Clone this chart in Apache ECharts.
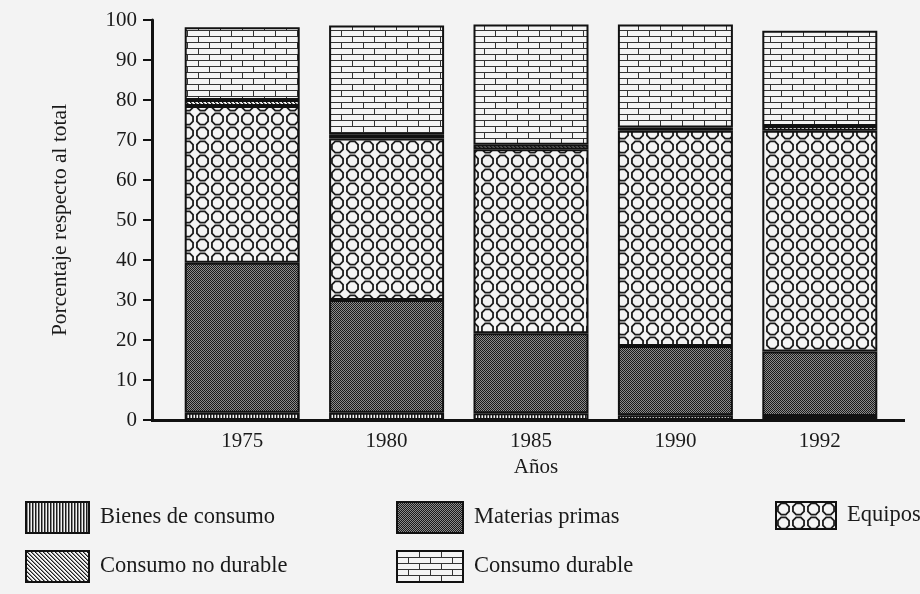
<!DOCTYPE html>
<html><head><meta charset="utf-8">
<script src="https://cdn.jsdelivr.net/npm/echarts@6/dist/echarts.min.js"></script>
<style>html,body{margin:0;padding:0;background:#f3f3f3}#c{width:920px;height:594px}</style>
</head><body><div id="c"></div>
<script>
// ---- data ----
const years = ['1975', '1980', '1985', '1990', '1992'];
const bienesConsumo    = [1.8, 1.8, 1.7, 1.2, 1.0];
const materiasPrimas   = [37.5, 28.2, 20.0, 17.3, 16.1];
const equipos          = [39.2, 40.4, 46.0, 53.8, 55.2];
const consumoNoDurable = [1.5, 0.9, 1.1, 0.8, 1.2];
const consumoDurable   = [18.2, 27.3, 30.1, 25.8, 23.8];
const seriesNames = ['Bienes de consumo', 'Materias primas', 'Equipos', 'Consumo no durable', 'Consumo durable'];

// ---- patterns ----
const BG = '#f4f4f4', INK = '#1c1c1c';
function pat(w, h, draw) {
  const c = document.createElement('canvas'); c.width = w; c.height = h;
  const g = c.getContext('2d'); g.fillStyle = BG; g.fillRect(0, 0, w, h); draw(g);
  return { image: c, repeat: 'repeat' };
}
const pVertical = pat(3, 3, g => { g.fillStyle = INK; g.fillRect(0, 0, 1, 3); g.fillStyle = '#888'; g.fillRect(1, 0, 1, 3); });
const pChecker = pat(2, 2, g => { g.fillStyle = '#1a1a1a'; g.fillRect(0, 0, 1, 1); g.fillRect(1, 1, 1, 1); g.fillStyle = '#8c8c8c'; g.fillRect(1, 0, 1, 1); g.fillRect(0, 1, 1, 1); });
const pDiag = pat(4, 4, g => { for (let i = 0; i < 4; i++) { g.fillStyle = INK; g.fillRect(i, i, 1, 1); g.fillStyle = '#8a8a8a'; g.fillRect((i + 1) % 4, i, 1, 1); } });
const pOct = pat(15, 14, g => {
  const cx = 7.5, cy = 7, r = 6.0; g.strokeStyle = INK; g.lineWidth = 1.8; g.beginPath();
  for (let k = 0; k < 8; k++) { const a = Math.PI / 8 + k * Math.PI / 4; const x = cx + r * Math.cos(a), y = cy + r * Math.sin(a); k ? g.lineTo(x, y) : g.moveTo(x, y); }
  g.closePath(); g.stroke();
});
const pBrick = pat(22, 12, g => { g.fillStyle = '#333'; g.fillRect(0, 0, 22, 1); g.fillRect(0, 6, 22, 1); g.fillRect(0, 0, 1, 6); g.fillRect(11, 6, 1, 6); });
const patterns = [pVertical, pChecker, pOct, pDiag, pBrick];
const values = [bienesConsumo, materiasPrimas, equipos, consumoNoDurable, consumoDurable];

const FONT = 'Liberation Serif';
const chart = echarts.init(document.getElementById('c'), null, { renderer: 'canvas' });
const legendBase = { orient: 'vertical', padding: 0, itemGap: 16, itemWidth: 63, itemHeight: 31, icon: 'rect',
  textStyle: { fontFamily: FONT, fontSize: 22.5, color: '#1a1a1a', padding: [0, 0, 0, 6] }, selectedMode: false };
chart.setOption({
  backgroundColor: '#f3f3f3',
  animation: false,
  grid: { left: 170, right: 28, top: 20, bottom: 174 },
  legend: [
    Object.assign({}, legendBase, { left: 25, top: 501, data: ['Bienes de consumo', 'Consumo no durable'] }),
    Object.assign({}, legendBase, { left: 396, top: 501, itemWidth: 66, data: ['Materias primas', 'Consumo durable'] }),
    Object.assign({}, legendBase, { left: 775, top: 501, itemWidth: 60, itemHeight: 27, data: ['Equipos'] })
  ],
  xAxis: {
    type: 'category', data: years,
    name: 'Años', nameLocation: 'middle', nameGap: 37,
    nameTextStyle: { fontFamily: FONT, fontSize: 21, color: '#1a1a1a', padding: [0, 0, 0, 10] },
    axisLine: { lineStyle: { color: '#111', width: 3 } },
    axisTick: { alignWithLabel: true, length: 6, lineStyle: { color: '#111', width: 2 } },
    axisLabel: { fontFamily: FONT, fontSize: 21, color: '#1a1a1a', margin: 11 }
  },
  yAxis: {
    type: 'value', min: 0, max: 100, interval: 10, offset: 18,
    name: 'Porcentaje respecto al total', nameLocation: 'middle', nameGap: 81,
    nameTextStyle: { fontFamily: FONT, fontSize: 21.5, color: '#1a1a1a' },
    axisLine: { show: true, lineStyle: { color: '#111', width: 3 } },
    axisTick: { show: true, length: 9, lineStyle: { color: '#111', width: 2 } },
    axisLabel: { fontFamily: FONT, fontSize: 21, color: '#1a1a1a', margin: 15 },
    splitLine: { show: false }
  },
  graphic: [
    { type: 'line', shape: { x1: 151, y1: 420.5, x2: 171, y2: 420.5 }, style: { stroke: '#111', lineWidth: 3 } },
    { type: 'line', shape: { x1: 891, y1: 420.5, x2: 905, y2: 420.5 }, style: { stroke: '#111', lineWidth: 3 } }
  ],
  series: seriesNames.map((n, i) => ({
    name: n, type: 'bar', stack: 'total', barWidth: 115, data: values[i],
    itemStyle: { color: patterns[i], borderColor: '#111', borderWidth: 2 },
    emphasis: { disabled: true }
  }))
});
</script></body></html>
